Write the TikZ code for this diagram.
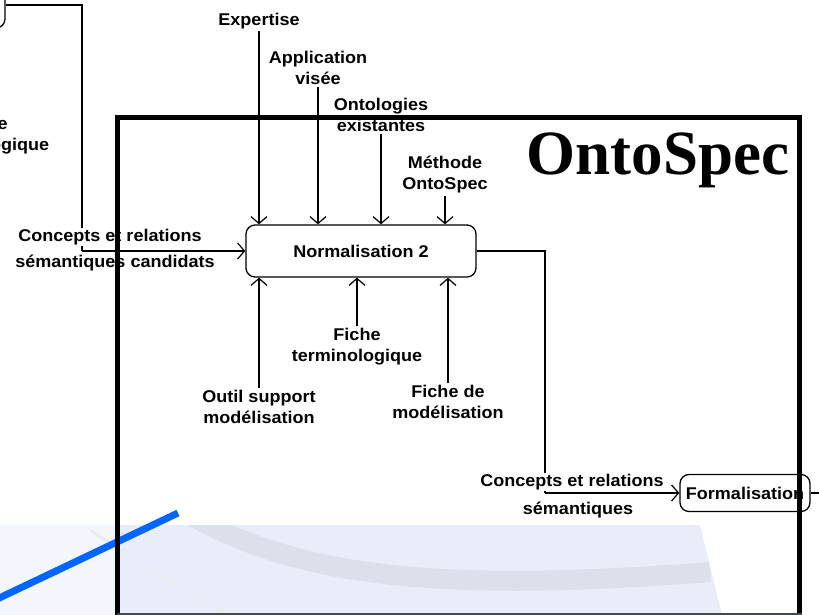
\documentclass[tikz,border=0pt]{standalone}
\usepackage{fontspec}
\setmainfont{Liberation Sans}[FakeStretch=1.06]
\newfontfamily\titlefont{Liberation Serif}
\usetikzlibrary{arrows.meta}
\definecolor{slideblue}{RGB}{0,102,255}
\definecolor{bgpale}{RGB}{243,246,253}
\definecolor{bglav}{RGB}{233,237,249}
\definecolor{swoosh}{RGB}{220,224,235}
\definecolor{framegray}{RGB}{70,72,80}

\begin{document}
\begin{tikzpicture}[x=1pt,y=-1pt,
    lbl/.style={font=\bfseries\fontsize{17}{21}\selectfont,align=center,inner sep=2pt},
    proc/.style={draw,line width=1.3pt,rounded corners=9pt,font=\bfseries\fontsize{17}{21}\selectfont},
    wire/.style={line width=1.2pt},
    flow/.style={wire,-{Straight Barb[length=7pt,width=16pt]}}]
\useasboundingbox (0,0) rectangle (819,615);
\clip (0,0) rectangle (819,615);
% slide background
\fill[bgpale] (0,525) rectangle (117,615);
\fill[bglav] (117,525) -- (700,525) -- (722,615) -- (117,615) -- cycle;
\begin{scope}
  \clip (0,525) -- (700,525) -- (722,615) -- (0,615) -- cycle;
  \draw[swoosh,line width=20pt] (185,512) .. controls (300,580) and (450,592) .. (710,572);
  \draw[swoosh!60,line width=3pt] (90,530) .. controls (150,570) and (200,600) .. (240,620);
\end{scope}
\draw[slideblue,line width=7pt] (-5,600) -- (178,513);

% processes
\node[proc,minimum width=80pt,minimum height=46pt] (prev) at (-35,5) {};
\node[lbl] (fprev) at (-16,136) {Fiche\\terminologique};
\node[proc,minimum width=230pt,minimum height=52pt] (norm) at (361,251) {Normalisation 2};
\node[proc,minimum width=130pt,minimum height=37pt,inner sep=2pt] (form) at (745,493) {Formalisation};

% controls and mechanisms
\node[lbl] (expert) at (259,21) {Expertise};
\node[lbl] (appli) at (318,68) {Application\\visée};
\node[lbl] (onto) at (381,115) {Ontologies\\existantes};
\node[lbl] (meth) at (445,175) {Méthode\\OntoSpec};
\node[lbl] (outil) at (259,407) {Outil support\\modélisation};
\node[lbl] (ftermi) at (357,347) {Fiche\\terminologique};
\node[lbl] (fmodel) at (448,402) {Fiche de\\modélisation};
\draw[flow] (expert) -- (expert |- norm.north);
\draw[flow] (appli) -- (appli |- norm.north);
\draw[flow] (onto) -- (onto |- norm.north);
\draw[flow] (meth) -- (meth |- norm.north);
\draw[flow] (outil) -- (outil |- norm.south);
\draw[flow] (ftermi) -- (ftermi |- norm.south);
\draw[flow] (fmodel) -- (fmodel |- norm.south);

% input
\coordinate (candin) at (82,251);
\draw[wire] (prev.east) -| (candin);
\node[lbl,fill=white,inner sep=1pt] (candA) at (110,237) {Concepts et relations};
\node[lbl] (candB) at (115,263) {sémantiques candidats};
\draw[flow] (candin) -- (norm.west);

% output
\coordinate (semout) at (545,493);
\draw[wire] (norm.east) -| (semout);
\node[lbl,fill=white,inner sep=1pt] (semA) at (572,482) {Concepts et relations};
\node[lbl] (semB) at (578,510) {sémantiques};
\draw[flow] (semout) -- (form.west);
\coordinate (formout) at (830,493);
\draw[wire] (form.east) -- (formout);

% frame and title
\draw[line width=5pt] (117.5,620) |- (799.5,117.5) -- (799.5,620);
\draw[framegray,line width=2pt] (117,613.5) -- (802,613.5);
\node[font=\titlefont\bfseries\fontsize{63}{63}\selectfont,anchor=base] (title) at (658,175) {OntoSpec};
\end{tikzpicture}
\end{document}
